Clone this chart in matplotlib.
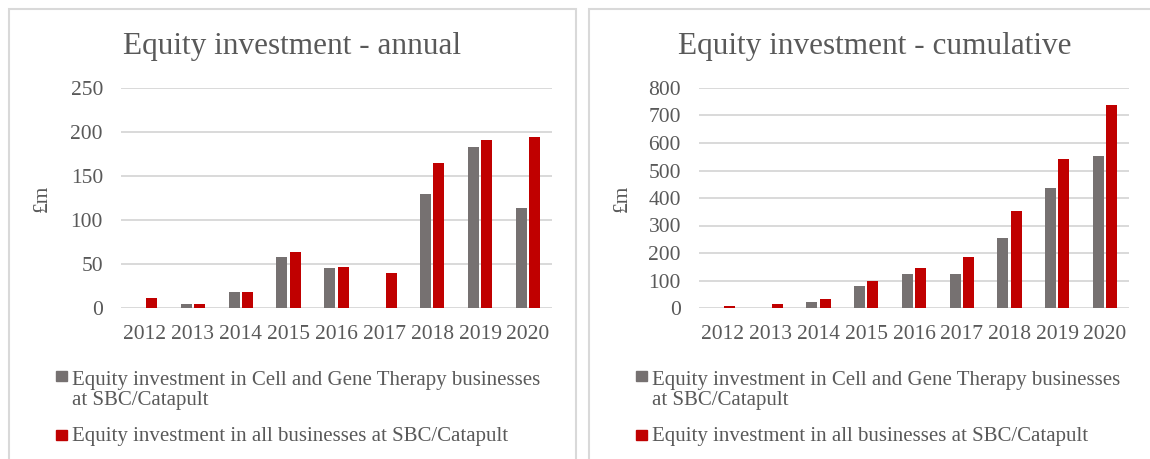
import matplotlib
matplotlib.use('Agg')
import matplotlib.pyplot as plt
from matplotlib.patches import Rectangle
import numpy as np

years = ['2012', '2013', '2014', '2015', '2016', '2017', '2018', '2019', '2020']
annual_cgt = [0, 4, 18, 58, 46, 0, 130, 183, 114]
annual_all = [11, 4, 18, 64, 47, 40, 165, 191, 194]
cum_cgt = [0, 0, 21, 79, 124, 124, 255, 438, 553]
cum_all = [8, 13, 33, 97, 147, 186, 351, 542, 738]

label_cgt = ['Equity investment in Cell and Gene Therapy businesses', 'at SBC/Catapult']
label_all = 'Equity investment in all businesses at SBC/Catapult'

GREY = '#767171'
RED = '#C00000'
TEXT = '#595959'
GRID = '#D9D9D9'

plt.rcParams['font.family'] = ['Liberation Serif', 'DejaVu Serif']

W, H = 1150, 459
fig = plt.figure(figsize=(W / 100, H / 100), dpi=100)


def px(x0, y0, x1, y1):
    # pixel box (top-left origin) -> figure fraction
    return [x0 / W, 1 - y1 / H, (x1 - x0) / W, (y1 - y0) / H]


def panel(x0, x1, plot_x0, plot_x1, title, cgt, allb, ymax, ystep):
    # light border around the chart area
    fig.patches.append(Rectangle((x0 / W, -0.05), (x1 - x0) / W, 1.05 - 9 / H,
                                 transform=fig.transFigure, fill=False,
                                 edgecolor=GRID, lw=1.5))
    ax = fig.add_axes(px(plot_x0, 88, plot_x1, 308))
    x = np.arange(len(years))
    ax.bar(x - 0.139, cgt, width=0.23, color=GREY, zorder=3)
    ax.bar(x + 0.139, allb, width=0.23, color=RED, zorder=3)
    ax.set_xlim(-0.5, len(years) - 0.5)
    ax.set_ylim(0, ymax)
    ax.set_yticks(np.arange(0, ymax + 1, ystep))
    ax.set_xticks(x)
    ax.set_xticklabels(years)
    ax.grid(axis='y', color=GRID, lw=1.4, zorder=0)
    for s in ax.spines.values():
        s.set_visible(False)
    ax.tick_params(axis='both', length=0, labelsize=15.5, colors=TEXT)
    ax.tick_params(axis='y', pad=13)
    ax.tick_params(axis='x', pad=12)
    ax.set_ylabel('£m', fontsize=15.5, color=TEXT)
    cx = (x0 + x1) / 2
    fig.text(cx / W, 1 - 54 / H, title, ha='center', va='baseline',
             fontsize=22.5, color=TEXT)
    # legend below the chart
    lx = x0 + 47
    fig.patches.append(Rectangle(((lx) / W, 1 - 381 / H), 10.5 / W, 10.5 / H,
                                 transform=fig.transFigure, color=GREY))
    fig.text((lx + 16) / W, 1 - 385 / H, label_cgt[0], ha='left', va='baseline',
             fontsize=15, color=TEXT)
    fig.text((lx + 16) / W, 1 - 405 / H, label_cgt[1], ha='left', va='baseline',
             fontsize=15, color=TEXT)
    fig.patches.append(Rectangle(((lx) / W, 1 - 440 / H), 10.5 / W, 10.5 / H,
                                 transform=fig.transFigure, color=RED))
    fig.text((lx + 16) / W, 1 - 441.5 / H, label_all, ha='left', va='baseline',
             fontsize=15, color=TEXT)
    return ax


ax1 = panel(9, 576, 121, 552, 'Equity investment - annual', annual_cgt, annual_all, 250, 50)
ax1.yaxis.set_label_coords((52 - 121) / 431, 0.5)
ax2 = panel(589, 1160, 699, 1129, 'Equity investment - cumulative', cum_cgt, cum_all, 800, 100)
ax2.yaxis.set_label_coords((632 - 699) / 430, 0.5)

fig.savefig('out.png', dpi=100)
